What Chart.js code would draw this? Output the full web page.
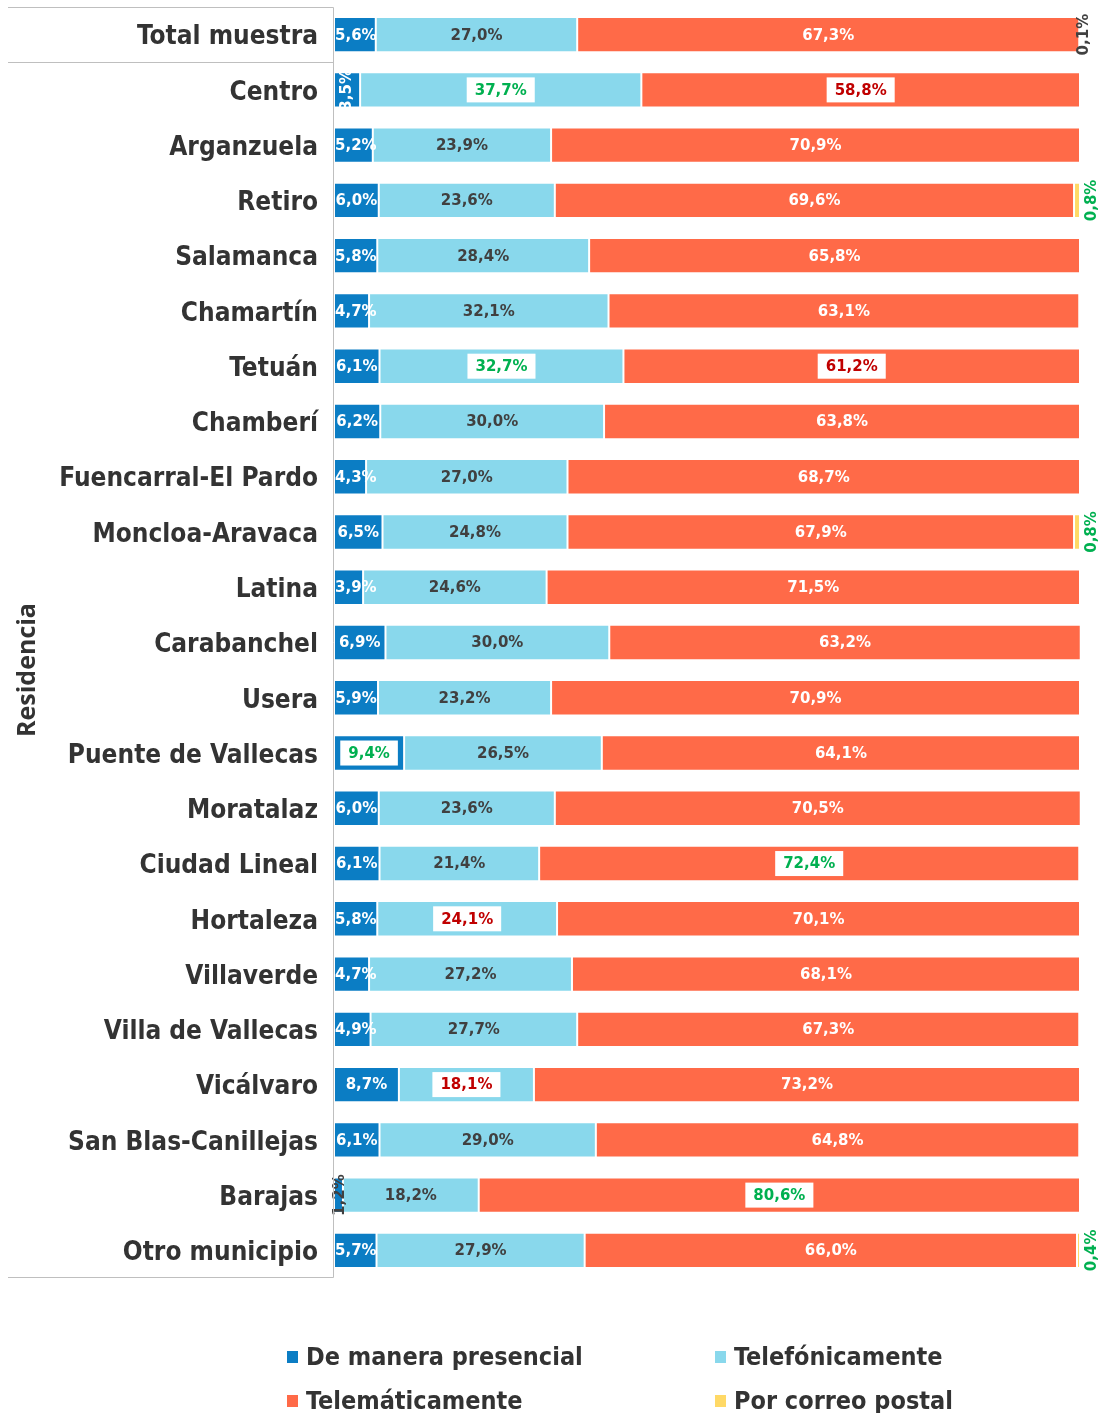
<!DOCTYPE html>
<html>
<head>
<meta charset="utf-8">
<script src="https://cdn.jsdelivr.net/npm/chart.js@4.4.1/dist/chart.umd.min.js"></script>
<style>
  html, body { margin: 0; padding: 0; background: #fff; }
  #wrap { width: 1104px; height: 1413px; }
</style>
</head>
<body>
<div id="wrap"><canvas id="chart" width="1104" height="1413"></canvas></div>
<script>
const categories = ['Total muestra', 'Centro', 'Arganzuela', 'Retiro', 'Salamanca', 'Chamartín', 'Tetuán',
  'Chamberí', 'Fuencarral-El Pardo', 'Moncloa-Aravaca', 'Latina', 'Carabanchel', 'Usera',
  'Puente de Vallecas', 'Moratalaz', 'Ciudad Lineal', 'Hortaleza', 'Villaverde', 'Villa de Vallecas',
  'Vicálvaro', 'San Blas-Canillejas', 'Barajas', 'Otro municipio'];
const presencial = [5.6, 3.5, 5.2, 6.0, 5.8, 4.7, 6.1, 6.2, 4.3, 6.5, 3.9, 6.9, 5.9, 9.4, 6.0, 6.1, 5.8, 4.7, 4.9, 8.7, 6.1, 1.2, 5.7];
const telefonica = [27.0, 37.7, 23.9, 23.6, 28.4, 32.1, 32.7, 30.0, 27.0, 24.8, 24.6, 30.0, 23.2, 26.5, 23.6, 21.4, 24.1, 27.2, 27.7, 18.1, 29.0, 18.2, 27.9];
const telematica = [67.3, 58.8, 70.9, 69.6, 65.8, 63.1, 61.2, 63.8, 68.7, 67.9, 71.5, 63.2, 70.9, 64.1, 70.5, 72.4, 70.1, 68.1, 67.3, 73.2, 64.8, 80.6, 66.0];
const postal = [0.1, 0, 0, 0.8, 0, 0, 0, 0, 0, 0.8, 0, 0, 0, 0, 0, 0, 0, 0, 0, 0, 0, 0, 0.4];
const seriesNames = ['De manera presencial', 'Telefónicamente', 'Telemáticamente', 'Por correo postal'];
const seriesColors = ['#0B7DC4', '#89D8EC', '#FF6A48', '#FFD966'];

// [series, row] pairs whose labels are highlighted (green = highest, red = lowest)
const highlightMax = [[1, 1], [1, 6], [0, 13], [2, 15], [2, 21], [3, 3], [3, 9], [3, 22]];
const highlightMin = [[2, 1], [2, 6], [1, 16], [1, 19]];
// small segments whose label is written vertically
const rotatedLabels = [[0, 1], [0, 21]];

const GREEN = '#00B050';
const RED = '#C00000';
const DARK = '#404040';
const has = (list, i, j) => list.some(p => p[0] === i && p[1] === j);
const fmt = v => v.toFixed(1).replace('.', ',') + '%';

const valueLabels = {
  id: 'valueLabels',
  afterDatasetsDraw(chart) {
    const ctx = chart.ctx;
    ctx.save();
    ctx.font = 'bold 15px "DejaVu Sans", Verdana, sans-serif';
    ctx.textBaseline = 'middle';
    chart.data.datasets.forEach((ds, i) => {
      const meta = chart.getDatasetMeta(i);
      meta.data.forEach((bar, j) => {
        const v = ds.data[j];
        if (!v) return;
        const p = bar.getProps(['x', 'y', 'base', 'height'], true);
        const text = fmt(v);
        const tw = ctx.measureText(text).width;
        const barW = p.x - p.base;
        const isMax = has(highlightMax, i, j);
        const isMin = has(highlightMin, i, j);
        let color = (i === 1) ? DARK : '#fff';

        if (i === 3 || has(rotatedLabels, i, j)) {
          // vertical label
          let x;
          if (i === 3) {
            x = p.x + (isMax ? 12 : 4);
            color = isMax ? GREEN : DARK;
          } else {
            x = (p.base + p.x) / 2 + (barW < 15 ? 2 : 0);
            color = barW < 15 ? DARK : '#fff';
          }
          ctx.save();
          ctx.translate(x, p.y);
          ctx.rotate(-Math.PI / 2);
          ctx.textAlign = 'center';
          ctx.fillStyle = color;
          ctx.fillText(text, 0, 0);
          ctx.restore();
          return;
        }

        let cx = (p.base + p.x) / 2;
        cx = Math.max(cx, p.base + tw / 2 + 1);
        if (isMax || isMin) {
          ctx.fillStyle = '#fff';
          const bw = tw + 16, bh = 25;
          if (bw > barW - 12) {
            ctx.fillRect(p.base + 3, p.y - p.height / 2 + 3, barW - 6, p.height - 6);
          } else {
            ctx.fillRect(cx - bw / 2, p.y - bh / 2, bw, bh);
          }
          color = isMax ? GREEN : RED;
        }
        ctx.textAlign = 'center';
        ctx.fillStyle = color;
        ctx.fillText(text, cx, p.y + 1);
      });
    });
    ctx.restore();
  }
};

const frame = {
  id: 'frame',
  afterDraw(chart) {
    const ctx = chart.ctx;
    const a = chart.chartArea;
    const yScale = chart.scales.y;
    const sep = Math.round(yScale.getPixelForValue(0.5)) + 0.5;
    const top = Math.round(a.top) + 0.5;
    const bottom = Math.round(a.bottom) - 0.5;
    const left = Math.round(a.left) - 0.5;
    ctx.save();
    ctx.strokeStyle = '#BFBFBF';
    ctx.lineWidth = 1;
    ctx.beginPath();
    ctx.moveTo(8, top); ctx.lineTo(left, top);
    ctx.moveTo(8, sep); ctx.lineTo(left, sep);
    ctx.moveTo(8, bottom); ctx.lineTo(left, bottom);
    ctx.moveTo(left, top); ctx.lineTo(left, bottom);
    ctx.stroke();

    // group title
    ctx.translate(28, (sep + bottom) / 2);
    ctx.rotate(-Math.PI / 2);
    ctx.font = 'bold 25px "Open Sans", sans-serif';
    ctx.fillStyle = '#333';
    ctx.textAlign = 'center';
    ctx.textBaseline = 'middle';
    ctx.fillText('Residencia', 0, 0);
    ctx.restore();

    // legend in two columns
    ctx.save();
    ctx.font = 'bold 25px "DejaVu Sans Condensed", "DejaVu Sans", sans-serif';
    ctx.textBaseline = 'middle';
    const cols = [287, 715];
    const rows = [1357, 1401];
    chart.data.datasets.forEach((ds, i) => {
      const x = cols[i % 2], y = rows[Math.floor(i / 2)];
      ctx.fillStyle = ds.backgroundColor;
      ctx.fillRect(x, y - 6, 11, 12);
      ctx.fillStyle = '#333';
      ctx.textAlign = 'left';
      ctx.fillText(ds.label, x + 19, y + 1);
    });
    ctx.restore();
  }
};

const seriesData = [presencial, telefonica, telematica, postal];

new Chart(document.getElementById('chart'), {
  type: 'bar',
  data: {
    labels: categories,
    datasets: seriesData.map((d, i) => ({
      label: seriesNames[i],
      data: d,
      backgroundColor: seriesColors[i],
      borderColor: '#fff',
      borderWidth: 1,
      borderSkipped: false,
      barPercentage: 0.64,
      categoryPercentage: 1
    }))
  },
  options: {
    indexAxis: 'y',
    responsive: false,
    animation: false,
    layout: { padding: { left: 0, top: 7, right: 24, bottom: 135 } },
    plugins: {
      legend: { display: false },
      tooltip: { enabled: false }
    },
    scales: {
      x: { stacked: true, min: 0, max: 100, display: false },
      y: {
        stacked: true,
        grid: { display: false, drawTicks: false },
        border: { display: false },
        ticks: {
          color: '#333',
          padding: 16,
          labelOffset: 3,
          font: { family: '"DejaVu Sans Condensed", "DejaVu Sans", sans-serif', weight: 'bold', size: 26 }
        },
        afterFit(scale) {
          scale.width = 334;
          scale.paddingTop = 0;
          scale.paddingBottom = 0;
        }
      }
    }
  },
  plugins: [valueLabels, frame]
});
</script>
</body>
</html>
